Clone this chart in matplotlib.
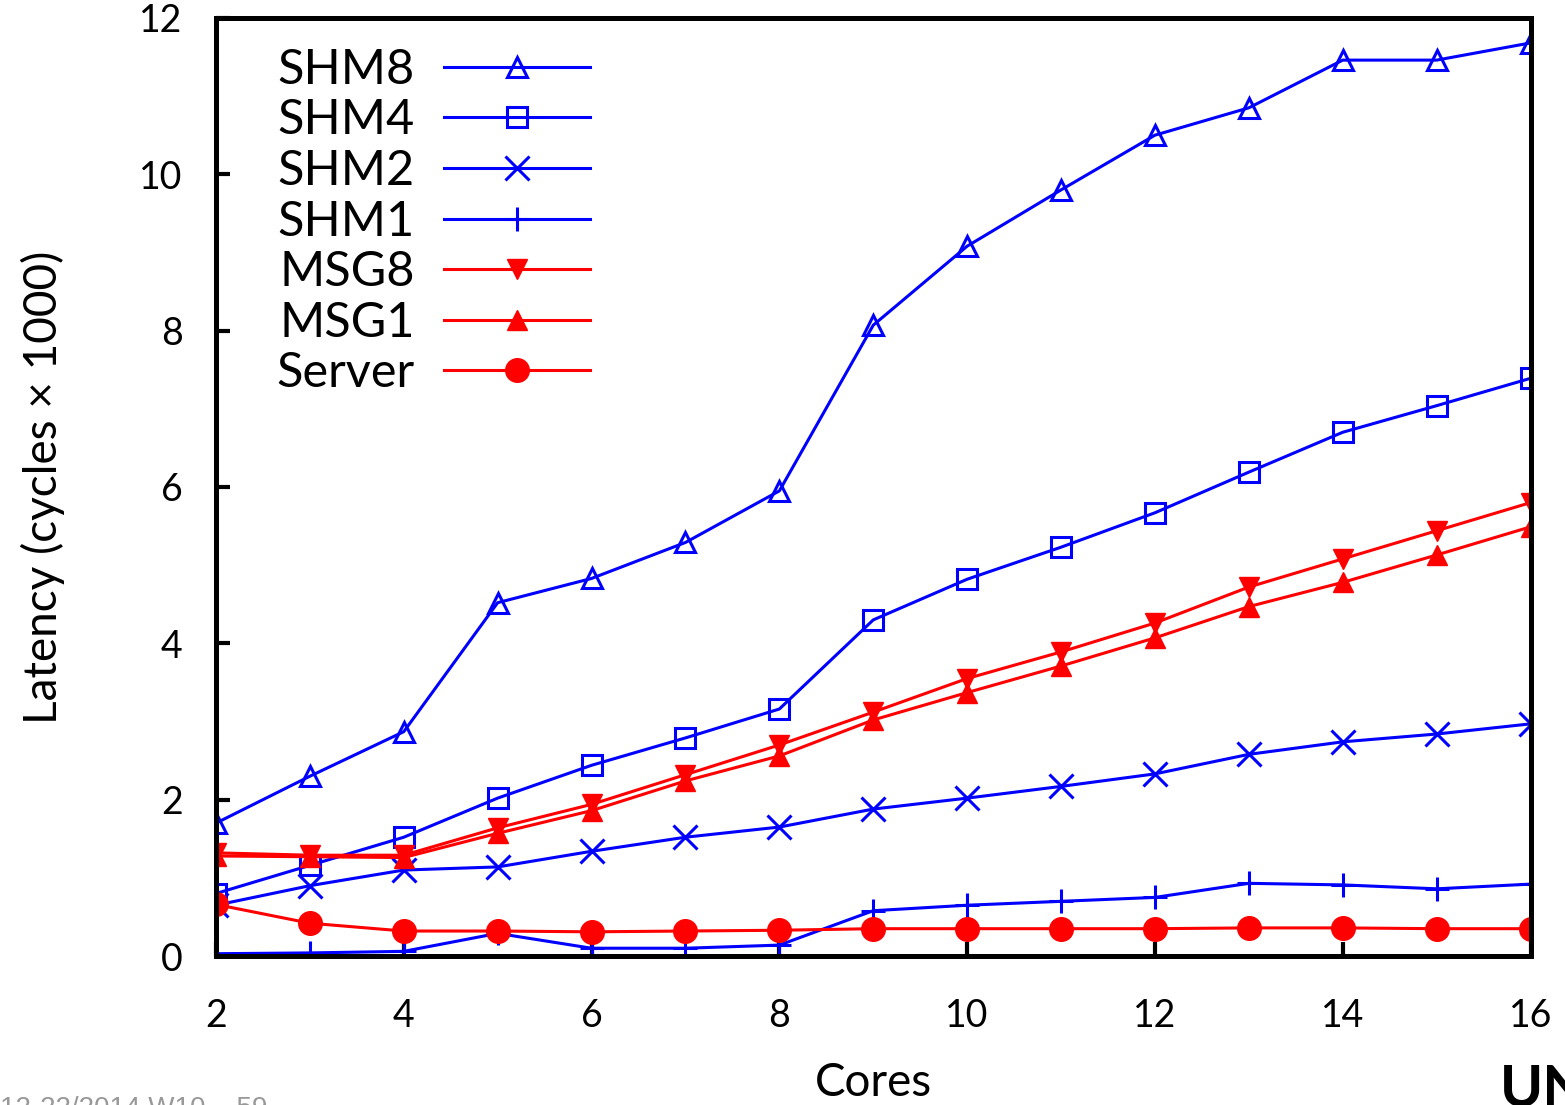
import numpy as np
import matplotlib
matplotlib.use("Agg")
import matplotlib.pyplot as plt

plt.rcParams['font.family'] = ['Lato', 'DejaVu Sans']

# data (latency in cycles x 1000)
cores = [2, 3, 4, 5, 6, 7, 8, 9, 10, 11, 12, 13, 14, 15, 16]
shm8 = [1.70, 2.30, 2.87, 4.52, 4.83, 5.29, 5.95, 8.07, 9.08, 9.80, 10.50, 10.85, 11.46, 11.46, 11.68]
shm4 = [0.80, 1.16, 1.52, 2.02, 2.44, 2.79, 3.16, 4.30, 4.82, 5.23, 5.67, 6.19, 6.70, 7.04, 7.39]
shm2 = [0.65, 0.90, 1.10, 1.14, 1.34, 1.52, 1.65, 1.88, 2.02, 2.17, 2.33, 2.58, 2.74, 2.84, 2.97]
shm1 = [0.03, 0.04, 0.06, 0.29, 0.10, 0.10, 0.14, 0.58, 0.65, 0.70, 0.75, 0.93, 0.91, 0.86, 0.92]
msg8 = [1.32, 1.29, 1.29, 1.64, 1.94, 2.32, 2.70, 3.12, 3.55, 3.89, 4.26, 4.72, 5.08, 5.44, 5.80]
msg1 = [1.28, 1.27, 1.26, 1.57, 1.86, 2.24, 2.56, 3.02, 3.37, 3.71, 4.07, 4.47, 4.78, 5.13, 5.49]
server = [0.66, 0.42, 0.32, 0.32, 0.31, 0.32, 0.33, 0.35, 0.35, 0.35, 0.35, 0.36, 0.36, 0.35, 0.35]

xticks = [2, 4, 6, 8, 10, 12, 14, 16]
yticks = [0, 2, 4, 6, 8, 10, 12]

blue = '#0000ff'
red = '#ff0000'
lw = 2.2

fig = plt.figure(figsize=(15.65, 11.05), dpi=100)
ax = fig.add_axes([0.138, 0.1348, 0.840, 0.849])

ax.plot(cores, shm8, color=blue, lw=lw, marker='^', ms=15, mfc='none', mew=2.2, label='SHM8')
ax.plot(cores, shm4, color=blue, lw=lw, marker='s', ms=14, mfc='none', mew=2.2, label='SHM4')
ax.plot(cores, shm2, color=blue, lw=lw, marker='x', ms=17, mew=2.2, label='SHM2')
ax.plot(cores, shm1, color=blue, lw=lw, marker='+', ms=17, mew=2.2, label='SHM1')
ax.plot(cores, msg8, color=red, lw=lw, marker='v', ms=14, label='MSG8')
ax.plot(cores, msg1, color=red, lw=lw, marker='^', ms=14, label='MSG1')
ax.plot(cores, server, color=red, lw=lw, marker='o', ms=17, label='Server')

ax.set_xlim(2, 16)
ax.set_ylim(0, 12)
ax.set_xticks(xticks)
ax.set_yticks(yticks)
ax.tick_params(direction='in', length=10, width=3, labelsize=27)
ax.tick_params(axis='x', pad=30)
ax.tick_params(axis='y', pad=24)
for s in ax.spines.values():
    s.set_linewidth(3.6)

ax.set_xlabel('Cores', fontsize=33)
ax.xaxis.set_label_coords(0.5, -0.135)
ax.xaxis.label.set_va('center')
ax.set_ylabel('Latency (cycles × 1000)', fontsize=33)
ax.yaxis.set_label_coords(-0.132, 0.5)
ax.yaxis.label.set_va('center')

leg = ax.legend(loc='upper right', bbox_to_anchor=(0.2844, 0.968), frameon=False,
                markerfirst=False, fontsize=35, handlelength=3.0, handletextpad=0.6,
                labelspacing=0.135, borderpad=0, borderaxespad=0, numpoints=1)

# slide footer and logo, cut off at the bottom edge
fig.text(0.0, 1 - 1096 / 1105, '12-22/2014 W10 – 59', color='#999999', fontsize=20,
         family=['Liberation Sans', 'DejaVu Sans'], va='top', ha='left')
fig.text(1500 / 1565, 1 - 1064 / 1105, 'UN', color='black', fontsize=42, fontweight='bold',
         va='top', ha='left')

fig.savefig('out.png', dpi=100)
